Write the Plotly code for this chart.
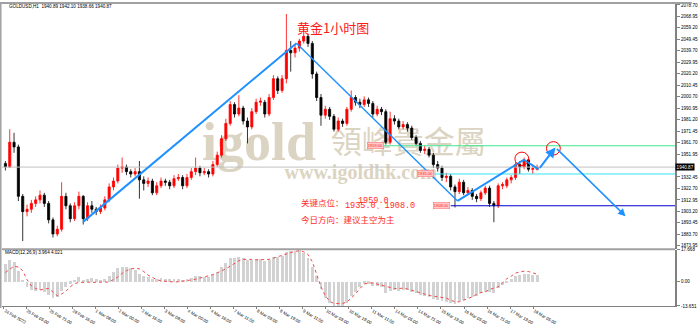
import plotly.graph_objects as go

# ================= data =================
# GOLDUSD H1, each candle below groups 3 hourly bars
opens = [1944, 1941, 1962, 1958, 1916, 1903, 1905, 1910, 1913, 1917,
         1910, 1896, 1884, 1888, 1916, 1908, 1897, 1908, 1916, 1897,
         1908, 1905, 1903, 1906, 1913, 1924, 1929, 1940, 1941, 1937,
         1935, 1937, 1930, 1927, 1929, 1919, 1925, 1929, 1928, 1925,
         1931, 1932, 1925, 1932, 1937, 1940, 1936, 1937, 1935, 1943,
         1951, 1965, 1978, 1994, 1986, 1991, 1980, 1975, 1988, 1996,
         1996, 1986, 2000, 2016, 2006, 2016, 2040, 2038, 2042, 2048,
         2052, 2046, 2020, 2000, 1985, 1990, 1984, 1973, 1980, 1978,
         1990, 2000, 1996, 1994, 1998, 1995, 1986, 1990, 1988, 1962,
         1982, 1980, 1975, 1977, 1974, 1966, 1961, 1955, 1956, 1951,
         1943, 1940, 1932, 1933, 1924, 1920, 1928, 1919, 1921, 1916,
         1914, 1919, 1923, 1910, 1908, 1925, 1925, 1930, 1932, 1943,
         1941, 1947, 1939, 1939]
highs = [1946, 1973, 1970, 1960, 1918, 1909, 1913, 1916, 1921, 1919,
         1912, 1898, 1891, 1928, 1919, 1910, 1911, 1920, 1917, 1911,
         1912, 1907, 1909, 1916, 1927, 1932, 1943, 1949, 1943, 1939,
         1940, 1946, 1933, 1932, 1931, 1928, 1932, 1931, 1930, 1934,
         1935, 1934, 1935, 1940, 1949, 1942, 1940, 1939, 1946, 1954,
         1968, 1982, 1997, 1996, 2002, 1993, 1983, 1991, 1999, 2000,
         1998, 2003, 2019, 2018, 2019, 2071, 2048, 2045, 2050, 2058,
         2054, 2048, 2022, 2003, 1993, 1992, 1986, 1983, 1982, 1992,
         2006, 2002, 1999, 2001, 2000, 1997, 1993, 1992, 1990, 1988,
         1985, 1982, 1980, 1979, 1976, 1968, 1963, 1959, 1958, 1953,
         1946, 1942, 1936, 1935, 1926, 1931, 1930, 1924, 1923, 1918,
         1921, 1925, 1925, 1912, 1927, 1928, 1932, 1934, 1945, 1946,
         1949, 1948, 1943, 1943]
lows = [1938, 1940, 1953, 1912, 1878, 1899, 1902, 1907, 1910, 1907,
        1893, 1881, 1882, 1886, 1905, 1894, 1895, 1905, 1892, 1895,
        1902, 1900, 1901, 1904, 1911, 1921, 1927, 1936, 1934, 1932,
        1933, 1914, 1921, 1924, 1917, 1917, 1923, 1925, 1922, 1923,
        1929, 1922, 1923, 1930, 1934, 1933, 1934, 1932, 1933, 1941,
        1949, 1963, 1976, 1983, 1984, 1977, 1961, 1973, 1986, 1993,
        1983, 1984, 1998, 2003, 2004, 2012, 2022, 2034, 2039, 2046,
        2043, 2016, 1997, 1976, 1982, 1981, 1971, 1971, 1975, 1976,
        1988, 1993, 1991, 1992, 1992, 1983, 1984, 1985, 1960, 1960,
        1977, 1973, 1973, 1971, 1964, 1959, 1953, 1952, 1949, 1940,
        1937, 1929, 1928, 1921, 1906.5, 1918, 1917, 1917, 1913, 1911,
        1912, 1917, 1907, 1894, 1906, 1922, 1923, 1927, 1930, 1935,
        1939, 1937, 1935, 1938]
closes = [1941, 1962, 1958, 1916, 1903, 1905, 1910, 1913, 1917, 1910,
          1896, 1884, 1888, 1916, 1908, 1897, 1908, 1916, 1897, 1908,
          1905, 1903, 1906, 1913, 1924, 1929, 1940, 1941, 1937, 1935,
          1937, 1930, 1927, 1929, 1919, 1925, 1929, 1928, 1925, 1931,
          1932, 1925, 1932, 1937, 1940, 1936, 1937, 1935, 1943, 1951,
          1965, 1978, 1994, 1986, 1991, 1980, 1975, 1988, 1996, 1997,
          1986, 2000, 2016, 2006, 2016, 2040, 2038, 2042, 2048, 2052,
          2046, 2020, 2000, 1985, 1990, 1984, 1973, 1980, 1978, 1990,
          2000, 1996, 1994, 1998, 1995, 1986, 1990, 1988, 1962, 1982,
          1980, 1975, 1977, 1974, 1966, 1961, 1955, 1956, 1951, 1943,
          1940, 1932, 1933, 1924, 1920, 1928, 1919, 1921, 1916, 1914,
          1919, 1923, 1910, 1908, 1925, 1926, 1930, 1932, 1943, 1941,
          1947, 1939, 1939.5, 1940.87]

macd_main = [10, 12, 11, 6, 1, -3, -4.4, -5, -4.5, -5.5,
             -7.5, -8.9, -8.5, -5, -3, -1, 1, 2.5, 1.2, 1.5,
             2, 1.5, 0.5, 1.5, 3.5, 5.5, 7.5, 8.5, 8.2, 7.5,
             6.5, 4.5, 3, 2.5, 1.5, 1.8, 2, 1.8, 1.5, 1.8,
             1.8, 1.2, 1.5, 2.2, 3, 3, 2.8, 2.8, 3.8, 5.5,
             8, 10.5, 13, 13.5, 14, 13, 12, 12, 12.5, 12.5,
             11.5, 12, 14, 14, 14.5, 16.5, 17, 17.3, 17.668, 16,
             13, 8, 3, -4, -9, -12, -13.3, -13.651, -13.3, -12,
             -8, -5.5, -3, -1, -1, -2.5, -2.5, -3, -6.5, -5,
             -4.5, -5, -4.5, -4.5, -5.5, -6.5, -7.5, -8, -8.5, -9.5,
             -10, -10.8, -11, -11.8, -12.2, -10.5, -10, -9, -8.5, -8,
             -6.5, -5.5, -5.5, -6, -3.5, -2, -0.5, 1.5, 3, 3.8,
             4.5, 4.2, 4, 3.964]
macd_signal = [5, 7, 8.5, 8, 6, 1, -2.5, -4, -4.8, -4.2,
               -4, -5.9, -8, -7, -5.5, -3, -1.2, -0.6, -0.4, -0.4,
               -0.5, -0.6, -0.4, -0.4, -0.3, 1, 2.4, 4.5, 6, 7,
               7.3, 7, 5.5, 3.5, 2.3, 1, 0.3, 0, -0.2, -0.3,
               -0.2, 0, 0.3, 0.8, 1.2, 1.8, 2.4, 3, 3.8, 4.8,
               5.8, 7, 8.5, 10, 11.5, 12.3, 12.5, 12.3, 12, 12,
               12, 12.3, 13, 13.8, 14.5, 15.5, 16.3, 16.8, 17, 16.5,
               15, 11, 4, -3, -8, -11, -12.3, -12.5, -12.3, -11.5,
               -9.5, -7, -4, -1.5, -0.8, -0.9, -1.5, -2.2, -2.8, -3.5,
               -4, -3.9, -3.8, -4.2, -5, -5.8, -6.3, -7, -7.8, -8.2,
               -8.6, -9, -9.3, -10.5, -11.3, -11.4, -10.5, -9.3, -8.6, -7.3,
               -6.2, -5.9, -4.5, -3.7, -3, -0.8, 1.5, 2.9, 4.6, 5.3,
               5.7, 5.5, 4.8, 4.021]

# 1942.20 is hidden behind the bid tag in the reference
price_tick_values = [1873.95, 1883.70, 1893.45, 1903.20, 1912.95, 1922.70,
                     1932.45, 1951.95, 1961.70, 1971.45, 1981.20,
                     1990.95, 2000.70, 2010.45, 2020.20, 2029.95, 2039.70,
                     2049.45, 2059.20, 2068.95, 2078.70]
macd_tick_values = [-13.651, 0.0, 17.668]
macd_tick_labels = ["-13.651", "0.00", "17.668"]
time_tick_labels = ["24 Feb 2022", "25 Feb 05:00", "25 Feb 21:00", "28 Feb 16:00",
                    "1 Mar 08:00", "2 Mar 00:00", "2 Mar 16:00", "3 Mar 08:00",
                    "4 Mar 00:00", "4 Mar 16:00", "7 Mar 11:00", "8 Mar 03:00",
                    "8 Mar 19:00", "9 Mar 11:00", "10 Mar 03:00", "10 Mar 19:00",
                    "11 Mar 11:00", "14 Mar 05:00", "14 Mar 21:00", "15 Mar 13:00",
                    "16 Mar 05:00", "16 Mar 21:00", "17 Mar 13:00", "18 Mar 05:00"]

bid_price = 1940.87
resistance = 1959.0
support_1 = 1935.0
support_2 = 1908.0
# analyst drawing: path (hour-bar index, price)
path_bars = [54.9, 203.0, 314.8, 360.8, 371.1, 382.7, 431.4]
path_prices = [1894.3, 2046.2, 1912.1, 1947.1, 1938.95, 1957.6, 1899.1]
circle_bars = [359.4, 381.3]
circle_prices = [1947.9, 1956.8]

# ================= geometry =================
W, H = 700, 328
ML, MR, MT, MB = 2, 17, 2, 10
PW, PH = W - ML - MR, H - MT - MB
BAR_PX = 1.458
FIRST_BAR_PX = 4.0
PX_PER_USD = 1.231
REF_PRICE, REF_PY = 1951.95, 159.0
BARS_PER_CANDLE = 3


def bar_at(px):
    return (px - FIRST_BAR_PX) / BAR_PX


def price_at(py):
    return REF_PRICE + (REF_PY - py) / PX_PER_USD


def fx(px):
    return (px - ML) / PW


def fy(py):
    return (H - MB - py) / PH


candle_x = [BARS_PER_CANDLE * i + 1 for i in range(len(closes))]
time_tick_bars = [0] + [15.3 + 16 * j for j in range(len(time_tick_labels) - 1)]
x_range = [bar_at(ML), bar_at(W - MR)]
y_range = [price_at(258), price_at(MT)]
price_dom = [fy(258), 1.0]
macd_dom = [0.0, fy(259)]

AXIS_FONT = dict(family="Liberation Sans", size=4.6, color="#000000")
RED = "#ff2a2a"
BLUE = "#1e90ff"
WM = "#dcd4c2"

fig = go.Figure()

# watermark on the base subplot (candles sit on an overlaying axis above it)
fig.add_trace(go.Scatter(x=[bar_at(262)], y=[price_at(151)], mode="text", text=["igold"],
                         textfont=dict(family="Liberation Serif", size=54, color=WM, weight="bold"),
                         hoverinfo="skip", showlegend=False, xaxis="x", yaxis="y"))
fig.add_trace(go.Scatter(x=[bar_at(413)], y=[price_at(150)], mode="text", text=["領峰貴金屬"],
                         textfont=dict(family="Noto Sans CJK TC", size=31, color=WM),
                         hoverinfo="skip", showlegend=False, xaxis="x", yaxis="y"))
fig.add_trace(go.Scatter(x=[bar_at(365)], y=[price_at(180)], mode="text", text=["www.igoldhk.com"],
                         textfont=dict(family="Liberation Serif", size=20, color=WM, weight="bold"),
                         hoverinfo="skip", showlegend=False, xaxis="x", yaxis="y"))

fig.add_trace(go.Candlestick(
    x=candle_x, open=opens, high=highs, low=lows, close=closes,
    increasing=dict(line=dict(color="#ff0000", width=0.8), fillcolor="#ff0000"),
    decreasing=dict(line=dict(color="#000000", width=0.8), fillcolor="#000000"),
    whiskerwidth=0, showlegend=False, hoverinfo="skip", xaxis="x", yaxis="y3"))

fig.add_trace(go.Bar(x=candle_x, y=macd_main, marker=dict(color="#d2d2d2", line=dict(width=0)),
                     width=2.0, showlegend=False, hoverinfo="skip", xaxis="x2", yaxis="y2"))
fig.add_trace(go.Scatter(x=candle_x, y=macd_signal, mode="lines",
                         line=dict(color="#f04848", width=1, dash="dot"),
                         showlegend=False, hoverinfo="skip", xaxis="x2", yaxis="y2"))

shapes = []
# frame
shapes.append(dict(type="rect", xref="paper", yref="paper", x0=fx(0), x1=fx(W), y0=fy(2), y1=fy(0),
                   fillcolor="#a0a0a0", line=dict(width=0), layer="above"))
shapes.append(dict(type="rect", xref="paper", yref="paper", x0=fx(0), x1=fx(1.5), y0=fy(320), y1=fy(0),
                   fillcolor="#a0a0a0", line=dict(width=0), layer="above"))
shapes.append(dict(type="line", xref="paper", yref="paper", x0=0, x1=1, y0=fy(258.5), y1=fy(258.5),
                   line=dict(color="#a0a0a0", width=2)))
# horizontal levels
shapes.append(dict(type="line", xref="x", yref="y", x0=x_range[0], x1=x_range[1], y0=bid_price, y1=bid_price,
                   line=dict(color="#c0c0c0", width=1)))
shapes.append(dict(type="line", xref="x", yref="y", x0=bar_at(387), x1=x_range[1], y0=resistance, y1=resistance,
                   line=dict(color="#3ce88c", width=1)))
shapes.append(dict(type="line", xref="x", yref="y", x0=bar_at(440), x1=x_range[1], y0=support_1, y1=support_1,
                   line=dict(color="#33e6f0", width=1)))
shapes.append(dict(type="line", xref="x", yref="y", x0=bar_at(456), x1=x_range[1], y0=support_2, y1=support_2,
                   line=dict(color="#0000c8", width=1)))
# trend path
widths = [2, 1.4, 2, 2]
for i in range(4):
    shapes.append(dict(type="line", xref="x", yref="y", x0=path_bars[i], y0=path_prices[i],
                       x1=path_bars[i + 1], y1=path_prices[i + 1], line=dict(color=BLUE, width=widths[i])))
rb, rp = 7 / BAR_PX, 7 / PX_PER_USD
for cb, cp in zip(circle_bars, circle_prices):
    shapes.append(dict(type="circle", xref="x", yref="y", x0=cb - rb, x1=cb + rb, y0=cp - rp, y1=cp + rp,
                       line=dict(color="#ff0000", width=1)))

ann = []
for i, w in [(4, 2), (5, 1.5)]:
    ann.append(dict(x=path_bars[i + 1], y=path_prices[i + 1], ax=path_bars[i], ay=path_prices[i],
                    xref="x", yref="y", axref="x", ayref="y", text="", showarrow=True,
                    arrowhead=2, arrowsize=1, arrowwidth=w, arrowcolor=BLUE, standoff=0))

ann.append(dict(xref="paper", yref="paper", x=fx(337), y=fy(15), text="黄金1小时图", showarrow=False,
                font=dict(family="Noto Sans CJK SC", size=13, color="#ff1a1a")))
ann.append(dict(xref="paper", yref="paper", x=fx(7), y=fy(4.5), xanchor="left", yanchor="middle",
                text="GOLDUSD,H1  1940.89 1942.10 1938.66 1940.87", showarrow=False,
                font=dict(family="Liberation Sans", size=4.6, color="#000000")))
ann.append(dict(xref="paper", yref="paper", x=fx(3), y=fy(262.5), xanchor="left", yanchor="middle",
                text="MACD(12,26,9) 3.964 4.021", showarrow=False,
                font=dict(family="Liberation Sans", size=4.6, color="#000000")))
txt_font = dict(family="Noto Sans CJK SC", size=8.5, color=RED)
num_font = dict(family="Liberation Mono", size=8.5, color=RED)
ann.append(dict(xref="paper", yref="paper", x=fx(378), y=fy(208), text="1959.0", showarrow=False, font=num_font))
ann.append(dict(xref="paper", yref="paper", x=fx(303), y=fy(218), xanchor="left", text="关键点位：",
                showarrow=False, font=txt_font))
ann.append(dict(xref="paper", yref="paper", x=fx(347), y=fy(221), xanchor="left", text="1935.0、1908.0",
                showarrow=False, font=num_font))
ann.append(dict(xref="paper", yref="paper", x=fx(303), y=fy(235.5), xanchor="left", text="今日方向：建议主空为主",
                showarrow=False, font=txt_font))
# price tags of the drawn levels
for lvl, px in [(resistance, 380), (support_1, 431), (support_2, 446.5)]:
    ann.append(dict(xref="x", yref="y", x=bar_at(px), y=lvl, text=f"{lvl:.2f}", showarrow=False,
                    bgcolor="#ffc8c8", bordercolor="#ff6a6a", borderwidth=0.5, borderpad=0.3,
                    font=dict(family="Liberation Sans", size=4, color="#ff2020")))
# bid tag on the price axis
ann.append(dict(xref="paper", yref="y", x=1.0, y=bid_price, xanchor="left", text=f"{bid_price:.2f}",
                showarrow=False, bgcolor="#000000", borderpad=0.6,
                font=dict(family="Liberation Sans", size=4.6, color="#ffffff")))

fig.update_layout(
    width=W, height=H, margin=dict(l=ML, r=MR, t=MT, b=MB, pad=0),
    paper_bgcolor="#ffffff", plot_bgcolor="#ffffff", showlegend=False, bargap=0,
    xaxis=dict(domain=[0, 1], range=x_range, anchor="y", showticklabels=False, showgrid=False,
               zeroline=False, rangeslider=dict(visible=False), ticks=""),
    xaxis2=dict(domain=[0, 1], range=x_range, anchor="y2", tickvals=time_tick_bars, ticktext=time_tick_labels,
                ticklabelposition="outside right", ticks="outside", ticklen=2, tickcolor="#808080",
                tickfont=dict(family="Liberation Sans", size=4.3, color="#000000"),
                showline=True, linecolor="#808080", linewidth=1, showgrid=False, zeroline=False),
    yaxis=dict(domain=price_dom, range=y_range, anchor="x", side="right", tickvals=price_tick_values,
               ticktext=[f"{v:.2f}" for v in price_tick_values], ticks="outside", ticklen=3,
               tickcolor="#808080", tickfont=AXIS_FONT, showline=True, linecolor="#808080", linewidth=2,
               showgrid=False, zeroline=False),
    yaxis3=dict(overlaying="y", range=y_range, anchor="x", side="right", visible=False,
                showgrid=False, zeroline=False),
    yaxis2=dict(domain=macd_dom, range=[-13.7, 17.72], anchor="x2", side="right",
                tickvals=macd_tick_values, ticktext=macd_tick_labels, ticks="outside", ticklen=3,
                tickcolor="#808080", tickfont=AXIS_FONT, showline=True, linecolor="#808080", linewidth=2,
                showgrid=False, zeroline=False),
    shapes=shapes, annotations=ann,
)

fig.write_html("out.html")
